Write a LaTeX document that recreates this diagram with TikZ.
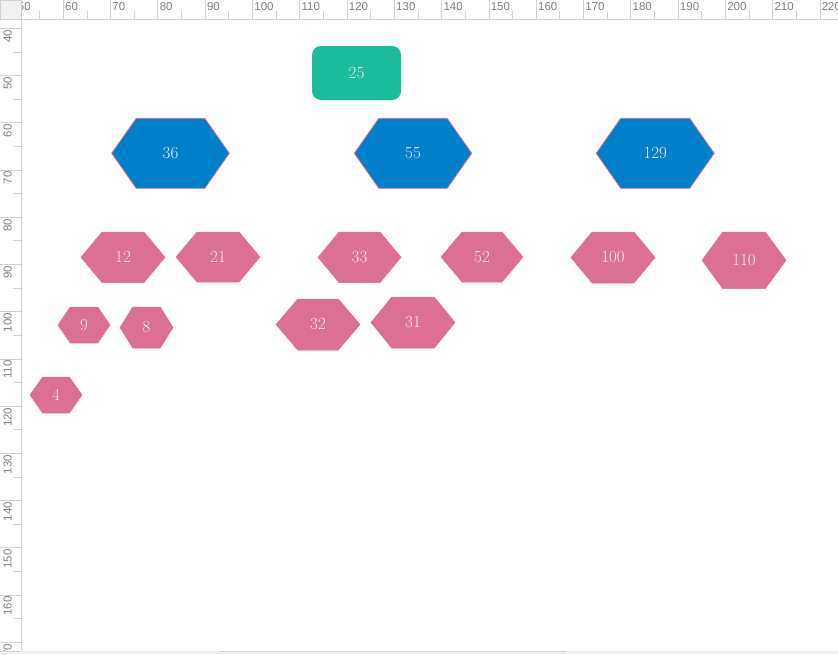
\documentclass[tikz,border=0pt]{standalone}
\usepackage{fontspec}
\usepackage{tikz}
\usepackage{xcolor}
\newfontfamily\rulerfont{Liberation Sans}
\usetikzlibrary{positioning}
\definecolor{hexpink}{RGB}{220,112,148}
\definecolor{hexblue}{RGB}{0,127,203}
\definecolor{rootgreen}{RGB}{27,188,156}
\definecolor{rulegrey}{RGB}{210,210,210}
\definecolor{ticktext}{RGB}{128,128,128}
\definecolor{cornergrey}{RGB}{240,240,240}
\definecolor{numtext}{RGB}{246,240,244}

\begin{document}
\begin{tikzpicture}[
          x=1pt, y=-1pt,
          lbl/.style={font=\fontsize{17}{17}\selectfont, text=numtext, inner sep=0pt},
          hexP/.style={fill=hexpink, draw=hexpink, line width=0.5pt},
          hexB/.style={fill=hexblue, draw=hexpink, line width=0.8pt},
          root/.style={fill=rootgreen, rounded corners=9pt, minimum width=89pt, minimum height=54pt, inner sep=0pt},
          tick/.style={draw=rulegrey, line width=0.8pt},
          rnum/.style={font=\rulerfont\fontsize{11.5}{11.5}\selectfont, text=ticktext, inner sep=0pt}
      ]
        \clip (0,0) rectangle (838,654);
        \foreach \v in {50,60,...,220} {
          \draw[tick] ({63.3+(\v-60)*4.729},0) -- ++(0,19);
          \draw[tick] ({63.3+(\v-55)*4.729},11) -- ++(0,8);
          \node[rnum, anchor=north west] (tx\v) at ({65+(\v-60)*4.729},2.5) {\v};
        }
        \foreach \v in {40,50,...,170} {
          \draw[tick] (0,{28.3+(\v-40)*4.723}) -- ++(21,0);
          \draw[tick] (13,{28.3+(\v-35)*4.723}) -- ++(8,0);
          \node[rnum, rotate=90, anchor=north east] (ty\v) at (3.3,{29.6+(\v-40)*4.723}) {\v};
        }
        \draw[rulegrey, line width=1pt] (0,19) -- (838,19);
        \draw[rulegrey, line width=1pt] (21,0) -- (21,654);
        \draw[rulegrey, fill=cornergrey] (0,0) rectangle (21,19);
        \fill[cornergrey] (0,651) rectangle (838,654);
        \draw[rulegrey] (0,651) -- (21,651);
        \draw[rulegrey] (220,651) -- (566,651);
        \node[root, lbl] (r25) at (356.5,73) {25};
        \foreach \t/\cx/\cy/\hw/\hh/\ins in {36/170.5/153.3/58.8/35/24.5, 55/413/153.3/58.7/35/24.5, 129/655.2/153.3/59/35/24.5} {
          \draw[hexB] ({\cx-\hw},\cy) -- ({\cx-\hw+\ins},{\cy-\hh}) -- ({\cx+\hw-\ins},{\cy-\hh}) -- ({\cx+\hw},\cy) -- ({\cx+\hw-\ins},{\cy+\hh}) -- ({\cx-\hw+\ins},{\cy+\hh}) -- cycle;
          \node[lbl] (h\t) at (\cx,\cy) {\t};
        }
        \foreach \t/\cx/\cy/\hw/\hh/\ins in {12/123/257.3/42/25.3/21, 21/218/257/42/25/21, 33/359.5/257.3/41.5/25.3/21, 52/482/257/41/25/21, 100/613/257.5/42/25.5/21, 110/744/260.3/42/28.3/20.7, 9/84/325/26/18/12.2, 8/146.5/327.5/26.5/20.5/12.7, 32/318/324.5/42/25.5/21.7, 31/413/322.5/42/25.5/20.7, 4/56/395/26/18/12.7} {
          \draw[hexP] ({\cx-\hw},\cy) -- ({\cx-\hw+\ins},{\cy-\hh}) -- ({\cx+\hw-\ins},{\cy-\hh}) -- ({\cx+\hw},\cy) -- ({\cx+\hw-\ins},{\cy+\hh}) -- ({\cx-\hw+\ins},{\cy+\hh}) -- cycle;
          \node[lbl] (h\t) at (\cx,\cy) {\t};
        }
      \end{tikzpicture}
\end{document}
